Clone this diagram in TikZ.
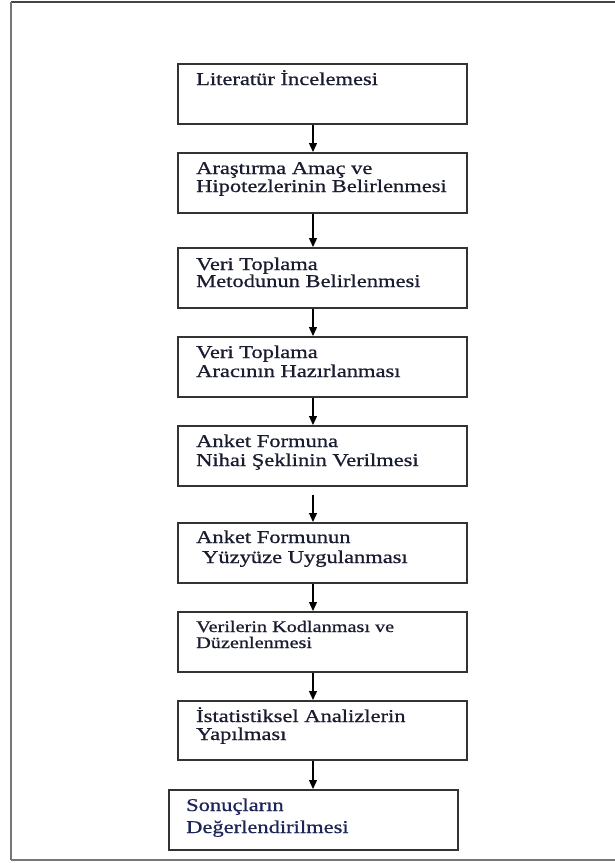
\documentclass[tikz,border=0pt]{standalone}
\usepackage{fontspec}
\setmainfont{Liberation Serif}[FakeStretch=1.25,FakeBold=0.8]
\usetikzlibrary{arrows.meta}
\definecolor{boxline}{HTML}{333333}
\definecolor{frameline}{HTML}{767676}
\definecolor{frametop}{HTML}{444444}
\definecolor{ink}{HTML}{1A1C30}
\definecolor{inkblue}{HTML}{1C2458}
\begin{document}
\begin{tikzpicture}[x=1pt,y=-1pt,
  stepbox/.style={draw=boxline, line width=1.6pt, minimum width=289pt, minimum height=60pt, inner sep=0pt, anchor=north west},
  txt/.style={anchor=base west, inner sep=0pt, text=ink, font=\fontsize{18}{18}\selectfont},
  smalltxt/.style={txt, font=\fontsize{16.2}{16}\selectfont},
  bluetxt/.style={txt, text=inkblue},
  arr/.style={-{Triangle[length=9pt,width=8pt]}, line width=1.3pt, draw=black}]
\useasboundingbox (0,0) rectangle (615,863);
% outer frame
\coordinate (ftl) at (11,1.5);
\coordinate (ftr) at (616,1.5);
\coordinate (fbl) at (11,860);
\coordinate (fbr) at (616,860);
\draw[frametop, line width=2pt] (ftl) -- (ftr);
\draw[frameline, line width=2.6pt] (ftl) -- (fbl);
\draw[frameline, line width=2.2pt] (fbl) -- (fbr);
% boxes
\node[stepbox] (b1) at (177,63) {};
\node[stepbox] (b2) at (177,152) {};
\node[stepbox] (b3) at (177,247) {};
\node[stepbox] (b4) at (177,336) {};
\node[stepbox] (b5) at (177,425) {};
\node[stepbox] (b6) at (177,522) {};
\node[stepbox] (b7) at (177,611) {};
\node[stepbox, minimum height=59pt] (b8) at (177,700) {};
\node[stepbox] (b9) at (168,789) {};
% texts
\node[txt] (t1a) at ([xshift=19pt,yshift=-22pt]b1.north west) {Literatür İncelemesi};
\node[txt] (t2a) at ([xshift=19pt,yshift=-22pt]b2.north west) {Araştırma Amaç ve};
\node[txt] (t2b) at ([xshift=19pt,yshift=-40pt]b2.north west) {Hipotezlerinin Belirlenmesi};
\node[txt] (t3a) at ([xshift=19pt,yshift=-23pt]b3.north west) {Veri Toplama};
\node[txt] (t3b) at ([xshift=19pt,yshift=-40pt]b3.north west) {Metodunun Belirlenmesi};
\node[txt] (t4a) at ([xshift=19pt,yshift=-22pt]b4.north west) {Veri Toplama};
\node[txt] (t4b) at ([xshift=19pt,yshift=-41pt]b4.north west) {Aracının Hazırlanması};
\node[txt] (t5a) at ([xshift=19pt,yshift=-22pt]b5.north west) {Anket Formuna};
\node[txt] (t5b) at ([xshift=19pt,yshift=-41pt]b5.north west) {Nihai Şeklinin Verilmesi};
\node[txt] (t6a) at ([xshift=19pt,yshift=-21pt]b6.north west) {Anket Formunun};
\node[txt] (t6b) at ([xshift=25pt,yshift=-41pt]b6.north west) {Yüzyüze Uygulanması};
\node[smalltxt] (t7a) at ([xshift=19pt,yshift=-21pt]b7.north west) {Verilerin Kodlanması ve};
\node[smalltxt] (t7b) at ([xshift=19pt,yshift=-37pt]b7.north west) {Düzenlenmesi};
\node[txt] (t8a) at ([xshift=19pt,yshift=-22pt]b8.north west) {İstatistiksel Analizlerin};
\node[txt] (t8b) at ([xshift=19pt,yshift=-40pt]b8.north west) {Yapılması};
\node[bluetxt] (t9a) at ([xshift=18pt,yshift=-22pt]b9.north west) {Sonuçların};
\node[bluetxt] (t9b) at ([xshift=18pt,yshift=-44pt]b9.north west) {Değerlendirilmesi};
% arrows
\coordinate (ax) at (313,0);
\path (b5.south -| ax) ++(0,8) coordinate (s5);
\draw[arr] (b1.south -| ax) -- (b2.north -| ax);
\draw[arr] (b2.south -| ax) -- (b3.north -| ax);
\draw[arr] (b3.south -| ax) -- (b4.north -| ax);
\draw[arr] (b4.south -| ax) -- (b5.north -| ax);
\draw[arr] (s5) -- (b6.north -| ax);
\draw[arr] (b6.south -| ax) -- (b7.north -| ax);
\draw[arr] (b7.south -| ax) -- (b8.north -| ax);
\draw[arr] (b8.south -| ax) -- (b9.north -| ax);
\end{tikzpicture}
\end{document}
